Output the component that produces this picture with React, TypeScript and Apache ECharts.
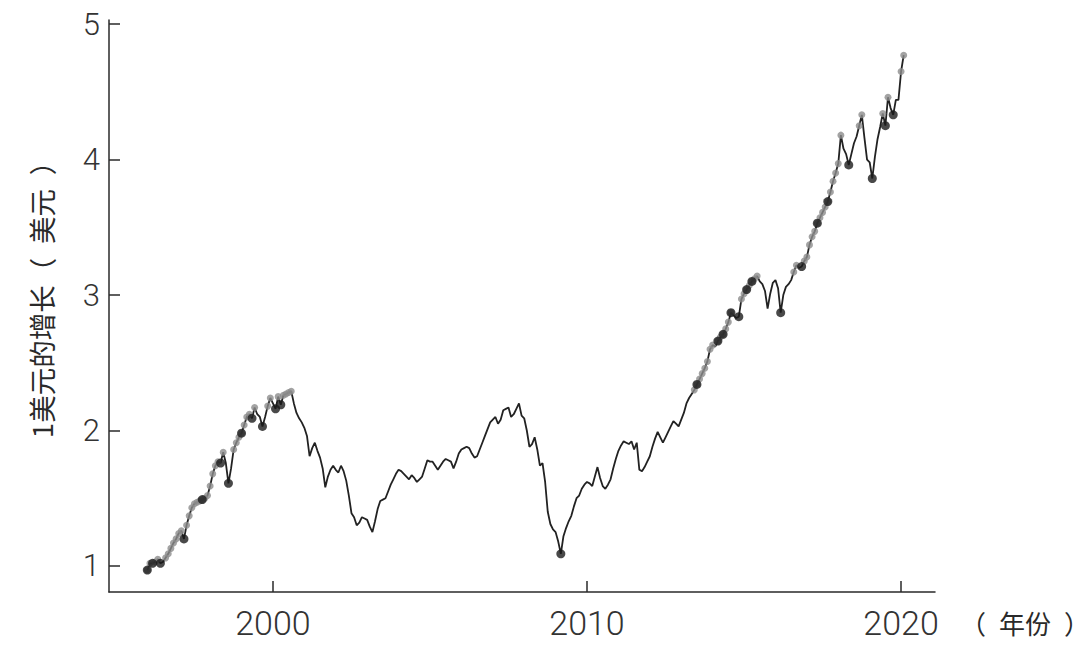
import React, { useEffect, useRef } from "react";
import * as echarts from "echarts";

// Monthly growth of $1, starting January 1996
const startYear = 1996;
const v1996 = [0.97, 1.02, 1.02, 1.03, 1.05, 1.02, 1.03, 1.06, 1.09, 1.13, 1.17, 1.2];
const v1997 = [1.24, 1.26, 1.2, 1.3, 1.37, 1.43, 1.46, 1.47, 1.48, 1.49, 1.5, 1.52];
const v1998 = [1.59, 1.68, 1.74, 1.77, 1.76, 1.84, 1.76, 1.61, 1.72, 1.86, 1.91, 1.95];
const v1999 = [1.98, 2.04, 2.1, 2.12, 2.09, 2.17, 2.12, 2.1, 2.03, 2.1, 2.18, 2.24];
const v2000 = [2.2, 2.16, 2.25, 2.19, 2.26, 2.27, 2.28, 2.29, 2.2, 2.13, 2.09, 2.06];
const v2001 = [2.02, 1.96, 1.81, 1.87, 1.91, 1.85, 1.8, 1.72, 1.58, 1.66, 1.71, 1.74];
const v2002 = [1.71, 1.69, 1.74, 1.7, 1.63, 1.52, 1.39, 1.36, 1.3, 1.32, 1.36, 1.35];
const v2003 = [1.34, 1.29, 1.25, 1.33, 1.42, 1.48, 1.49, 1.5, 1.55, 1.6, 1.64, 1.68];
const v2004 = [1.71, 1.7, 1.68, 1.66, 1.64, 1.67, 1.65, 1.62, 1.64, 1.66, 1.72, 1.78];
const v2005 = [1.77, 1.77, 1.74, 1.71, 1.74, 1.77, 1.79, 1.78, 1.77, 1.72, 1.77, 1.83];
const v2006 = [1.86, 1.87, 1.88, 1.87, 1.83, 1.8, 1.81, 1.86, 1.91, 1.96, 2.01, 2.06];
const v2007 = [2.08, 2.1, 2.05, 2.08, 2.15, 2.16, 2.17, 2.1, 2.12, 2.16, 2.2, 2.11];
const v2008 = [2.09, 2.0, 1.88, 1.9, 1.95, 1.86, 1.74, 1.76, 1.62, 1.4, 1.31, 1.27];
const v2009 = [1.25, 1.18, 1.09, 1.22, 1.28, 1.33, 1.37, 1.44, 1.5, 1.52, 1.57, 1.6];
const v2010 = [1.62, 1.61, 1.59, 1.66, 1.73, 1.65, 1.59, 1.57, 1.6, 1.64, 1.72, 1.79];
const v2011 = [1.85, 1.89, 1.92, 1.91, 1.9, 1.92, 1.86, 1.91, 1.71, 1.7, 1.73, 1.77];
const v2012 = [1.81, 1.88, 1.94, 1.99, 1.95, 1.91, 1.95, 1.99, 2.03, 2.07, 2.05, 2.03];
const v2013 = [2.08, 2.13, 2.2, 2.24, 2.27, 2.3, 2.34, 2.38, 2.42, 2.46, 2.51, 2.6];
const v2014 = [2.63, 2.62, 2.66, 2.69, 2.71, 2.75, 2.8, 2.87, 2.85, 2.83, 2.84, 2.97];
const v2015 = [3.01, 3.04, 3.07, 3.1, 3.12, 3.14, 3.1, 3.08, 3.03, 2.9, 3.01, 3.09];
const v2016 = [3.11, 3.05, 2.87, 3.0, 3.06, 3.08, 3.11, 3.17, 3.22, 3.2, 3.21, 3.25];
const v2017 = [3.28, 3.37, 3.43, 3.47, 3.53, 3.57, 3.61, 3.65, 3.69, 3.76, 3.84, 3.9];
const v2018 = [3.97, 4.18, 4.08, 4.04, 3.96, 4.04, 4.12, 4.17, 4.25, 4.33, 4.16, 4.0];
const v2019 = [3.98, 3.86, 4.02, 4.15, 4.24, 4.34, 4.25, 4.46, 4.38, 4.33, 4.44, 4.44];
const v2020 = [4.65, 4.77];

// Months (index from January 1996) highlighted with dark markers
const darkMonths = [0, 2, 5, 14, 21, 28, 31, 36, 40, 44, 49, 51, 158, 210, 218, 220, 223, 226, 229, 231, 242, 250, 256, 260, 268, 277, 282, 285];

const xTickValues = [2000, 2010, 2020];
const yTickValues = [1, 2, 3, 4, 5];
const xAxisName = "（\u2002年份\u2002）";
const yAxisName = "1美元的增长（\u2002美元\u2002）";

const allValues = [
  ...v1996, ...v1997, ...v1998, ...v1999, ...v2000, ...v2001, ...v2002, ...v2003,
  ...v2004, ...v2005, ...v2006, ...v2007, ...v2008, ...v2009, ...v2010, ...v2011,
  ...v2012, ...v2013, ...v2014, ...v2015, ...v2016, ...v2017, ...v2018, ...v2019, ...v2020,
];

export default function App() {
  const ref = useRef<HTMLDivElement>(null);

  useEffect(() => {
    if (!ref.current) return;
    const chart = echarts.init(ref.current, null, { renderer: "svg" });

    const lineData = allValues.map((v, i) => [startYear + i / 12, v]);
    // new all-time highs (gray markers)
    const highData: number[][] = [];
    let runMax = -Infinity;
    allValues.forEach((v, i) => {
      if (v > runMax) {
        runMax = v;
        highData.push([startYear + i / 12, v]);
      }
    });
    const darkData = darkMonths.map((i) => [startYear + i / 12, allValues[i]]);

    const labelFont = "Roboto, 'Liberation Sans', sans-serif";
    const cjkFont = "'Noto Sans CJK SC', sans-serif";

    chart.setOption({
      animation: false,
      backgroundColor: "#ffffff",
      grid: { left: 109, right: 157, top: 20, bottom: 62 },
      xAxis: {
        type: "value",
        min: 1994.78,
        max: 2021.08,
        axisLine: { show: true, lineStyle: { color: "#2a2a2a", width: 1.5 } },
        axisTick: {
          show: true,
          inside: true,
          length: 11,
          customValues: xTickValues,
          lineStyle: { color: "#2a2a2a", width: 1.5 },
        },
        axisLabel: {
          customValues: xTickValues,
          margin: 14,
          fontSize: 34,
          fontWeight: 300,
          fontFamily: labelFont,
          color: "#333333",
          formatter: (v: number) => String(Math.round(v)),
        },
        splitLine: { show: false },
      },
      yAxis: {
        type: "value",
        min: 0.808,
        max: 5.03,
        axisLine: { show: true, lineStyle: { color: "#2a2a2a", width: 1.5 } },
        axisTick: {
          show: true,
          inside: true,
          length: 11,
          customValues: yTickValues,
          lineStyle: { color: "#2a2a2a", width: 1.5 },
        },
        axisLabel: {
          customValues: yTickValues,
          margin: 9,
          fontSize: 31,
          fontWeight: 300,
          fontFamily: labelFont,
          color: "#333333",
          formatter: (v: number) => String(Math.round(v)),
        },
        splitLine: { show: false },
      },
      graphic: [
        {
          type: "text",
          x: 1025,
          y: 622,
          style: {
            text: xAxisName,
            font: `26px ${cjkFont}`,
            fill: "#2a2a2a",
            align: "center",
            verticalAlign: "middle",
          },
        },
        {
          type: "text",
          x: 41,
          y: 293,
          rotation: Math.PI / 2,
          style: {
            text: yAxisName,
            font: `27.5px ${cjkFont}`,
            fill: "#2a2a2a",
            align: "center",
            verticalAlign: "middle",
          },
        },
      ],
      series: [
        {
          type: "line",
          data: lineData,
          showSymbol: false,
          symbol: "none",
          lineStyle: { color: "#222222", width: 1.8 },
          z: 2,
        },
        {
          type: "scatter",
          data: highData,
          symbol: "circle",
          symbolSize: 7,
          itemStyle: { color: "#8c8c8c" },
          z: 3,
        },
        {
          type: "scatter",
          data: darkData,
          symbol: "circle",
          symbolSize: 9,
          itemStyle: { color: "#1c1c1c" },
          z: 4,
        },
      ],
    });

    return () => chart.dispose();
  }, []);

  return (
    <div
      ref={ref}
      style={{ position: "fixed", left: 0, top: 0, width: 1092, height: 654, background: "#fff" }}
    />
  );
}
